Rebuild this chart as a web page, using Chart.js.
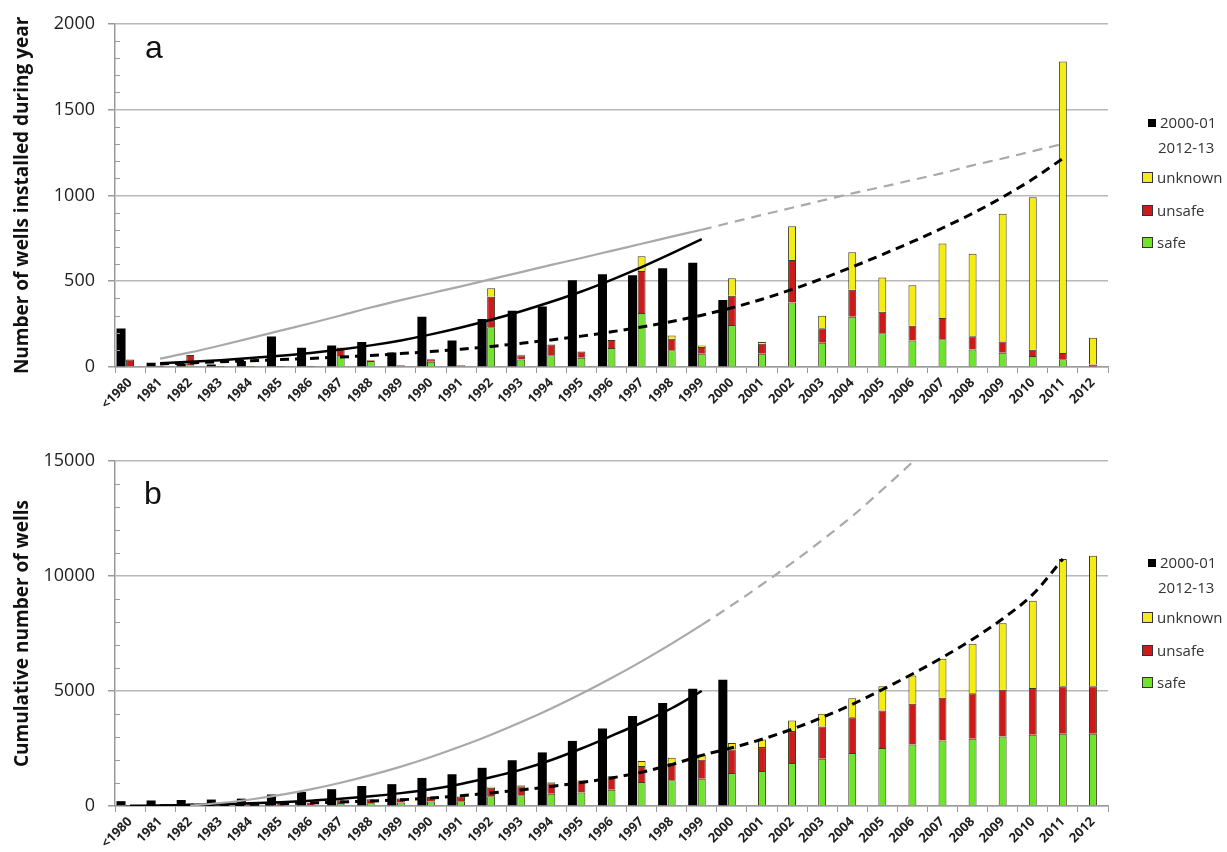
<!DOCTYPE html>
<html>
<head>
<meta charset="utf-8">
<script src="https://cdn.jsdelivr.net/npm/chart.js@4.4.1/dist/chart.umd.min.js"></script>
<style>
  html, body { margin: 0; padding: 0; background: #fff; }
  body { width: 1227px; height: 852px; position: relative; overflow: hidden; font-family: 'Open Sans', sans-serif; }
  canvas { position: absolute; left: 0; }
  #cTop { top: 0; }
  #cBot { top: 430px; }
  .panel { position: absolute; font-family: 'Liberation Sans', Arial, sans-serif; font-size: 32px; line-height: 32px; color: #111; }
  .leg { position: absolute; left: 1142px; font-size: 15px; color: #333; }
  .leg div { position: absolute; white-space: nowrap; height: 20px; line-height: 20px; }
  .sw { display: inline-block; width: 9px; height: 9px; border: 1.5px solid #333; vertical-align: middle; margin-right: 4px; position: relative; top: -1px; }
  .swk { display: inline-block; width: 8px; height: 8px; background: #000; vertical-align: middle; margin-right: 4px; position: relative; top: -1px; }
</style>
</head>
<body>
<canvas id="cTop" width="1227" height="430"></canvas>
<canvas id="cBot" width="1227" height="422"></canvas>
<div class="panel" style="left:145px; top:31px;">a</div>
<div class="panel" style="left:144px; top:477px;">b</div>
<div class="leg" id="legTop" style="top:112px;"></div>
<div class="leg" id="legBot" style="top:552px;"></div>
<script>
// Year categories (shared by both panels)
const years = ['<1980','1981','1982','1983','1984','1985','1986','1987','1988','1989','1990',
  '1991','1992','1993','1994','1995','1996','1997','1998','1999','2000','2001','2002','2003',
  '2004','2005','2006','2007','2008','2009','2010','2011','2012'];

// Panel a: wells installed during each year
const annualSurvey2000 = [225, 25, 20, 15, 35, 178, 112, 125, 145, 85, 293, 154, 280, 328, 353, 506, 540, 534, 575, 608, 390];
const annualSafe    = [5, 3, 10, 2, 2, 3, 3, 62, 35, 5, 30, 5, 231, 43, 68, 54, 110, 315, 97, 77, 245, 77, 376, 141, 293, 197, 154, 162, 102, 83, 64, 45, 3];
const annualUnsafe  = [38, 5, 60, 3, 3, 3, 3, 50, 5, 5, 15, 5, 178, 25, 63, 37, 48, 244, 67, 40, 170, 58, 247, 85, 157, 125, 87, 124, 77, 66, 37, 36, 12];
const annualUnknown = [0, 0, 0, 0, 0, 0, 0, 3, 0, 0, 3, 0, 50, 3, 0, 0, 0, 87, 19, 8, 102, 10, 197, 73, 219, 199, 236, 434, 481, 744, 888, 1699, 155];
// trend curves for panel a
const annualTrendGrey   = [null, 49, 85, 125, 168, 212, 255, 300, 347, 390, 430, 470, 512, 553, 595, 635, 677, 718, 760, 800, 843, 886, 928, 970, 1012, 1050, 1090, 1130, 1175, 1215, 1258, 1300, null];
const annualTrendBlack  = [null, 22, 30, 40, 52, 66, 82, 102, 126, 155, 190, 230, 275, 325, 380, 440, 508, 582, 662, 745];
const annualTrendDashed = [null, 18, 24, 30, 36, 43, 50, 58, 67, 78, 90, 104, 120, 138, 158, 180, 205, 233, 265, 302, 345, 395, 452, 515, 583, 655, 730, 810, 895, 990, 1095, 1215, null];
const annualTicks = [0, 500, 1000, 1500, 2000];

// Panel b: cumulative number of wells
const cumSurvey2000 = [210, 240, 260, 280, 320, 500, 610, 730, 870, 950, 1220, 1380, 1660, 1990, 2330, 2830, 3370, 3910, 4480, 5100, 5490];
const cumSafe    = [5, 8, 18, 20, 22, 25, 28, 90, 125, 150, 200, 210, 420, 464, 530, 585, 710, 1042, 1115, 1190, 1432, 1519, 1866, 2057, 2300, 2517, 2678, 2852, 2925, 3025, 3099, 3142, 3145];
const cumUnsafe  = [40, 45, 105, 108, 111, 114, 117, 165, 170, 175, 190, 200, 370, 390, 455, 490, 525, 694, 769, 820, 1029, 1042, 1390, 1400, 1563, 1637, 1766, 1853, 1980, 2027, 2030, 2066, 2066];
const cumUnknown = [0, 0, 0, 0, 0, 0, 0, 5, 5, 8, 10, 12, 45, 48, 48, 50, 55, 217, 216, 225, 273, 334, 464, 553, 825, 1054, 1229, 1693, 2144, 2891, 3790, 5530, 5670];
// trend curves for panel b
const cumTrendGrey   = [null, null, 20, 130, 284, 482, 724, 1010, 1340, 1714, 2132, 2594, 3100, 3650, 4244, 4882, 5564, 6290, 7060, 7874, 8730, 9630, 10570, 11560, 12600, 13750, 14950, 16200, null];
const cumTrendBlack  = [10, 25, 45, 75, 115, 165, 230, 310, 420, 560, 730, 960, 1250, 1580, 2000, 2500, 3050, 3620, 4250, 5000];
const cumTrendDashed = [null, 10, 25, 45, 70, 100, 135, 170, 215, 270, 345, 450, 570, 700, 850, 1020, 1220, 1470, 1800, 2200, 2530, 2900, 3340, 3850, 4420, 5060, 5740, 6460, 7250, 8140, 9200, 10740, null];
const cumTicks = [0, 5000, 10000, 15000];

const seriesNames = { survey: '2000-01', unknown: 'unknown', unsafe: 'unsafe', safe: 'safe' };
const COLORS = {
  survey: '#000000',
  safe: '#6fe42c',
  unsafe: '#cc1b1b',
  unknown: '#f5ec14',
  edge: '#3b3b22',
  grey: '#a9a9a9',
  grid: '#b8b8b8',
  axis: '#9a9a9a'
};
const FONT = "'Open Sans', sans-serif";

// short inward tick marks between the labelled y gridlines
const minorTicks = {
  id: 'minorTicks',
  afterDraw(chart, args, opts) {
    const y = chart.scales.y;
    const ctx = chart.ctx;
    ctx.save();
    ctx.strokeStyle = COLORS.axis;
    ctx.lineWidth = 1;
    for (let v = y.min + opts.step; v < y.max; v += opts.step) {
      if (v % opts.major === 0) continue;
      const py = Math.round(y.getPixelForValue(v)) + 0.5;
      ctx.beginPath();
      ctx.moveTo(y.right, py);
      ctx.lineTo(y.right + 5, py);
      ctx.stroke();
    }
    ctx.restore();
  }
};

function buildChart(canvasId, cfg) {
  const greyBreak = 19; // solid up to 1999, dashed beyond
  const lineBase = { type: 'line', order: 0, pointRadius: 0, cubicInterpolationMode: 'monotone' };
  const barBase = { type: 'bar', order: 1, categoryPercentage: 0.9 };
  const datasets = [
    { ...lineBase, label: 'trend grey', data: cfg.grey, stack: 'tg',
      borderColor: COLORS.grey, borderWidth: 2.2,
      segment: { borderDash: ctx => ctx.p0DataIndex >= greyBreak ? [10, 7] : undefined } },
    { ...lineBase, label: 'trend black', data: cfg.black, stack: 'tb',
      borderColor: '#000', borderWidth: 2.5 },
    { ...lineBase, label: 'trend dashed', data: cfg.dashed, stack: 'td',
      borderColor: '#000', borderWidth: 3, borderDash: [9, 6] },
    { ...barBase, label: seriesNames.survey, data: cfg.survey, stack: 's2000',
      backgroundColor: COLORS.survey, barPercentage: 1.0 },
    { ...barBase, label: seriesNames.safe, data: cfg.safe, stack: 's2012',
      backgroundColor: COLORS.safe, borderColor: COLORS.edge, borderWidth: 1, barPercentage: 0.88 },
    { ...barBase, label: seriesNames.unsafe, data: cfg.unsafe, stack: 's2012',
      backgroundColor: COLORS.unsafe, borderColor: COLORS.edge, borderWidth: 1, barPercentage: 0.88 },
    { ...barBase, label: seriesNames.unknown, data: cfg.unknown, stack: 's2012',
      backgroundColor: COLORS.unknown, borderColor: COLORS.edge, borderWidth: 1, barPercentage: 0.88 },
    // empty slot to the right so the 2012-13 column sits on the category centre
    { ...barBase, label: 'spacer', data: [], stack: 'spacer', barPercentage: 1.0 }
  ];

  return new Chart(document.getElementById(canvasId), {
    data: { labels: years, datasets },
    plugins: [minorTicks],
    options: {
      responsive: false,
      animation: false,
      devicePixelRatio: 1,
      layout: { padding: { top: cfg.padTop, right: 119, left: 0, bottom: 0 } },
      plugins: {
        legend: { display: false },
        tooltip: { enabled: false },
        minorTicks: { step: cfg.minor, major: cfg.major }
      },
      scales: {
        x: {
          stacked: true,
          afterFit: s => { s.height = cfg.xHeight; },
          grid: { display: true, drawOnChartArea: false, drawTicks: true, tickLength: 6,
                  color: COLORS.axis, offset: true },
          border: { display: true, color: COLORS.axis, width: 1.5 },
          ticks: { autoSkip: false, maxRotation: 45, minRotation: 45, padding: 2,
                   color: '#222', font: { family: FONT, size: 13, weight: 'bold' } }
        },
        y: {
          stacked: true,
          min: 0,
          max: cfg.ticks[cfg.ticks.length - 1],
          afterFit: s => { s.width = 115; },
          afterBuildTicks: s => { s.ticks = cfg.ticks.map(v => ({ value: v })); },
          grid: { color: COLORS.grid, lineWidth: 1.5, tickLength: 7, tickColor: COLORS.axis },
          border: { display: true, color: COLORS.axis, width: 1.5 },
          ticks: { padding: 13, color: '#222', font: { family: FONT, size: 18 },
                   callback: v => String(v) },
          title: { display: true, text: cfg.title, color: '#111', padding: { top: 11 },
                   font: { family: FONT, size: 19, weight: 'bold' } }
        }
      }
    }
  });
}

buildChart('cTop', {
  survey: annualSurvey2000, safe: annualSafe, unsafe: annualUnsafe, unknown: annualUnknown,
  grey: annualTrendGrey, black: annualTrendBlack, dashed: annualTrendDashed,
  ticks: annualTicks, minor: 100, major: 500, padTop: 21, xHeight: 63,
  title: 'Number of wells installed during year'
});

buildChart('cBot', {
  survey: cumSurvey2000, safe: cumSafe, unsafe: cumUnsafe, unknown: cumUnknown,
  grey: cumTrendGrey, black: cumTrendBlack, dashed: cumTrendDashed,
  ticks: cumTicks, minor: 1000, major: 5000, padTop: 31, xHeight: 46,
  title: 'Cumulative number of wells'
});

// side legends
function fillLegend(id) {
  const el = document.getElementById(id);
  const rows = [
    { y: 0,    html: '<span class="swk"></span>' + seriesNames.survey, x: 6 },
    { y: 25,   html: '2012-13', x: 16 },
    { y: 55,   html: '<span class="sw" style="background:' + COLORS.unknown + '"></span>' + seriesNames.unknown, x: 0 },
    { y: 87.5, html: '<span class="sw" style="background:' + COLORS.unsafe + '"></span>' + seriesNames.unsafe, x: 0 },
    { y: 120,  html: '<span class="sw" style="background:' + COLORS.safe + '"></span>' + seriesNames.safe, x: 0 }
  ];
  rows.forEach(r => {
    const d = document.createElement('div');
    d.style.top = r.y + 'px';
    d.style.left = r.x + 'px';
    d.innerHTML = r.html;
    el.appendChild(d);
  });
}
fillLegend('legTop');
fillLegend('legBot');
</script>
</body>
</html>
